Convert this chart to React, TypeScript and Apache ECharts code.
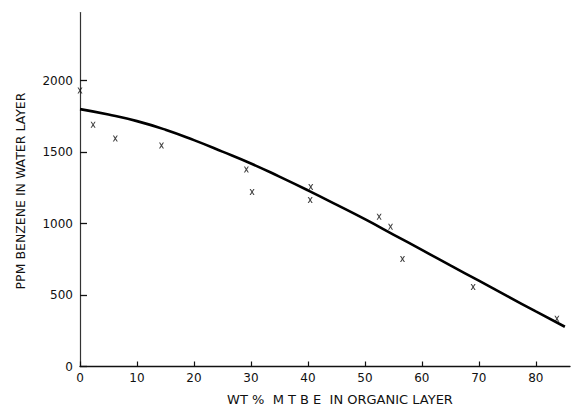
import React, { useEffect, useRef } from "react";
import * as echarts from "echarts";

const xTicks = [0, 10, 20, 30, 40, 50, 60, 70, 80];
const yTicks = [0, 500, 1000, 1500, 2000];

const mtbe = [0, 2.3, 6.2, 14.3, 29.2, 30.2, 40.5, 40.4, 52.5, 54.5, 56.6, 69.0, 83.7];
const benzene = [1930, 1690, 1595, 1545, 1378, 1220, 1255, 1165, 1048, 978, 752, 556, 334];

const curveX = [0, 5, 10, 15, 20, 25, 30, 35, 40, 45, 50, 55, 60, 65, 70, 75, 80, 85.1];
const curveY = [1800, 1762, 1716, 1656, 1583, 1503, 1420, 1328, 1232, 1132, 1030, 923, 815, 707, 600, 492, 385, 278];

const xTitle = "WT %  M T B E  IN ORGANIC LAYER";
const yTitle = "PPM BENZENE IN WATER LAYER";

const FONT = "DejaVu Sans";
const crossPath =
  "path://M0,0L2.3,0L5,3.4L7.7,0L10,0L6.3,5L10,10L7.7,10L5,6.6L2.3,10L0,10L3.7,5Z";

export default function App() {
  const ref = useRef<HTMLDivElement>(null);
  useEffect(() => {
    if (!ref.current) return;
    const chart = echarts.init(ref.current, null, { renderer: "svg" });
    chart.setOption({
      animation: false,
      backgroundColor: "#ffffff",
      grid: { left: 80, right: 1, top: 12.6, bottom: 38.5, containLabel: false },
      xAxis: {
        type: "value",
        min: 0,
        max: 86,
        interval: 10,
        splitLine: { show: false },
        axisLine: { lineStyle: { color: "#111", width: 1.3 } },
        axisTick: {
          inside: true,
          length: 5,
          customValues: xTicks,
          lineStyle: { color: "#111", width: 1.2 },
        },
        axisLabel: {
          customValues: xTicks,
          margin: 5,
          color: "#111",
          fontFamily: FONT,
          fontSize: 12,
          formatter: (v: number) => String(v),
        },
      },
      yAxis: {
        type: "value",
        min: 0,
        max: 2475,
        interval: 500,
        splitLine: { show: false },
        axisLine: { lineStyle: { color: "#333", width: 1.2 } },
        axisTick: {
          inside: true,
          length: 7,
          customValues: yTicks,
          lineStyle: { color: "#111", width: 1.3 },
        },
        axisLabel: {
          customValues: yTicks,
          margin: 7,
          color: "#111",
          fontFamily: FONT,
          fontSize: 12,
          formatter: (v: number) => String(v),
        },
      },
      series: [
        {
          type: "line",
          data: curveX.map((x, i) => [x, curveY[i]]),
          smooth: 0.5,
          showSymbol: false,
          lineStyle: { color: "#000", width: 2.6 },
          z: 2,
        },
        {
          type: "scatter",
          data: mtbe.map((x, i) => [x, benzene[i]]),
          symbol: crossPath,
          symbolSize: [5, 6],
          itemStyle: { color: "#111" },
          z: 3,
        },
      ],
      graphic: [
        {
          type: "text",
          x: 340,
          y: 399,
          style: {
            text: xTitle,
            fontFamily: FONT,
            fontSize: 13,
            fill: "#111",
            align: "center",
            verticalAlign: "middle",
          },
        },
        {
          type: "text",
          x: 20,
          y: 191,
          rotation: Math.PI / 2,
          style: {
            text: yTitle,
            fontFamily: FONT,
            fontSize: 12.5,
            fill: "#111",
            align: "center",
            verticalAlign: "middle",
          },
        },
      ],
    });
    return () => chart.dispose();
  }, []);
  return (
    <div
      ref={ref}
      style={{ position: "fixed", left: 0, top: 0, width: 571, height: 405 }}
    />
  );
}
